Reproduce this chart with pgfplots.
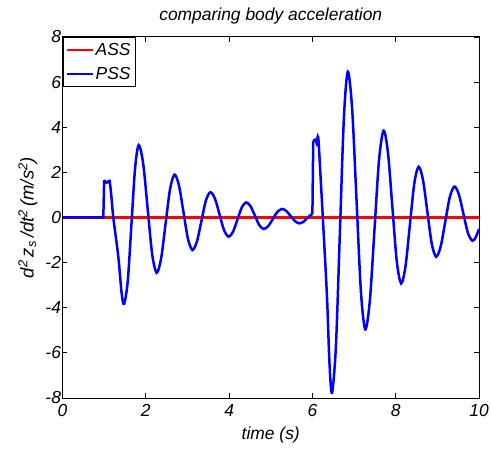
\documentclass[border=0pt]{standalone}
\usepackage{fontspec}
\setmainfont{Liberation Sans}
\usepackage{pgfplots}
\pgfplotsset{compat=1.18}
\newcommand{\ff}{\fontsize{17.5}{21}\selectfont\itshape}
\begin{document}
\begin{tikzpicture}
\begin{axis}[
 scale only axis, width=416.5bp, height=361bp,
 xmin=0, xmax=10, ymin=-8, ymax=8,
 xtick={0,2,...,10}, ytick={-8,-6,...,8},
 tick align=inside, major tick length=5bp,
 axis line style={line width=1bp},
 every tick/.style={black, line width=0.8bp},
 /pgf/number format/assume math mode=true,
 ticklabel style={font=\ff},
 xticklabel style={yshift=-3bp},
 yticklabel style={xshift=2bp},
 title={comparing body acceleration},
 title style={font=\ff, at={(axis description cs:0.5,1)}, anchor=south, yshift=3bp},
 xlabel={time (s)},
 xlabel style={font=\ff, at={(axis description cs:0.5,0)}, anchor=center, yshift=-37bp},
 ylabel={d\textsuperscript{2}\,z\textsubscript{s}\,/dt\textsuperscript{2}\,(m/s\textsuperscript{2})},
 ylabel style={font=\fontsize{18.5}{22}\selectfont\itshape, at={(axis description cs:-0.083,0.5)}, anchor=center},
 legend style={at={(0,1)}, anchor=north west, draw=black, line width=0.8bp, font=\ff,
   inner xsep=3bp, inner ysep=4bp, row sep=6bp},
 legend cell align=left,
 legend image code/.code={\draw[#1,line width=1.8bp] (0bp,0bp) -- (26bp,0bp);},
]
\addplot[red, line width=2.5bp] coordinates {(0,0) (10,0)};
\addlegendentry{ASS}
\addplot[blue, line width=2.5bp] coordinates {(0,0) (0.98,0) (1.0,1.66)};
\addlegendentry{PSS}
\addplot[blue, line width=2.5bp, smooth, forget plot] coordinates {
(1.00,1.66) (1.05,1.55) (1.09,1.56) (1.13,1.62) (1.17,1.0) (1.22,0.0)
(1.34,-1.74) (1.42,-3.36) (1.48,-3.83) (1.5675,-2.80) (1.655,-0.31) (1.7425,2.18)
(1.83,3.21) (1.9375,2.38) (2.045,0.38) (2.1525,-1.62) (2.26,-2.45) (2.3675,-1.815)
(2.475,-0.275) (2.5825,1.265) (2.69,1.90) (2.7975,1.41) (2.905,0.23) (3.0125,-0.95)
(3.12,-1.44) (3.2275,-1.065) (3.335,-0.16) (3.4425,0.745) (3.55,1.12) (3.66,0.835)
(3.77,0.135) (3.88,-0.565) (3.99,-0.85) (4.095,-0.627) (4.20,-0.09) (4.305,0.447)
(4.41,0.67) (4.515,0.497) (4.62,0.08) (4.725,-0.337) (4.83,-0.51) (4.94,-0.38)
(5.05,-0.065) (5.16,0.25) (5.27,0.38) (5.375,0.286) (5.48,0.06) (5.585,-0.166)
(5.69,-0.26) (5.80,-0.17) (5.90,0.02) (5.97,0.12) (6.00,0.16)};
\addplot[blue, line width=2.5bp, forget plot] coordinates {(6.00,0.16) (6.02,3.40)};
\addplot[blue, line width=2.5bp, smooth, forget plot] coordinates {
(6.02,3.40) (6.07,3.45) (6.10,3.30) (6.14,3.55) (6.19,2.0) (6.25,0.0)
(6.35,-3.51) (6.41,-6.46) (6.47,-7.77) (6.565,-5.685) (6.66,-0.655) (6.755,4.375)
(6.85,6.46) (6.955,4.787) (7.06,0.75) (7.165,-3.287) (7.27,-4.96) (7.38,-3.669)
(7.49,-0.555) (7.60,2.559) (7.71,3.85) (7.815,2.858) (7.92,0.465) (8.025,-1.928)
(8.13,-2.92) (8.235,-2.163) (8.34,-0.335) (8.445,1.493) (8.55,2.25) (8.655,1.665)
(8.76,0.255) (8.865,-1.155) (8.97,-1.74) (9.08,-1.284) (9.19,-0.185) (9.30,0.914)
(9.41,1.37) (9.5175,1.018) (9.625,0.17) (9.7325,-0.678) (9.84,-1.03) (9.92,-0.88)
(10.0,-0.51)};
\end{axis}
\pgfresetboundingbox
\path[use as bounding box] ([xshift=-62.5bp,yshift=-53bp]current axis.south west) rectangle ([xshift=12bp,yshift=37bp]current axis.north east);
\end{tikzpicture}
\end{document}
